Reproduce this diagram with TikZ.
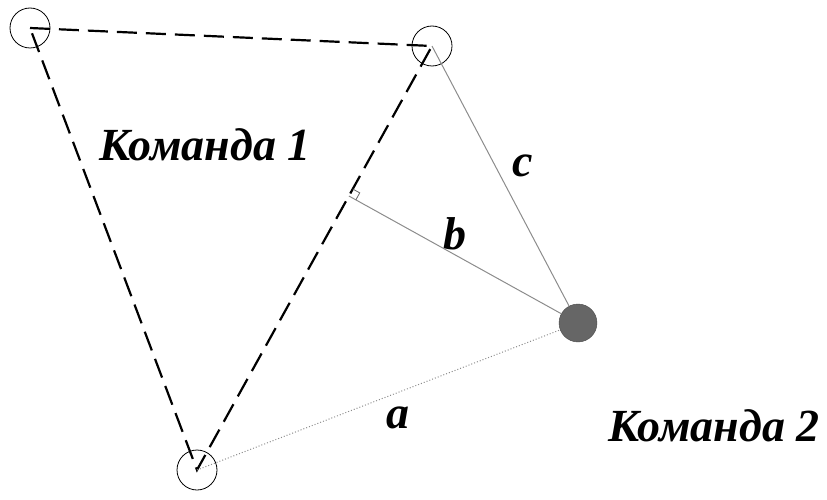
\documentclass[tikz,border=0pt]{standalone}
\usepackage{fontspec}
\setmainfont{Liberation Serif}
\usetikzlibrary{calc}
\begin{document}
\begin{tikzpicture}[x=1pt,y=-1pt,
  player/.style={circle,draw,thick,minimum size=40pt,inner sep=0pt},
  ball/.style={circle,fill=black!60,draw=black!70,minimum size=38pt,inner sep=0pt},
  team/.style={dash pattern=on 20pt off 9pt,line width=2.2pt},
  dist/.style={draw=black!45,line width=1pt},
  lbl/.style={font=\fontsize{46}{50}\selectfont\bfseries\itshape}]
\useasboundingbox (0,0) rectangle (827,500);
\node[player] (A) at (30,28) {};
\node[player] (B) at (432,46) {};
\node[player] (C) at (197,470) {};
\node[ball] (D) at (578,323) {};
\coordinate (F) at ($(B.center)!(D.center)!(C.center)$);
\draw[team] (A.center) -- (B.center) -- (C.center) -- cycle;
\draw[dist] (B.center) -- (D);
\draw[dist] (F) -- (D);
\draw[dist,dotted] (C.center) -- (D);
\draw[black!60,line width=0.8pt] ($(F)!8pt!(B.center)$) -- ($(F)!8pt!(B.center)+(F)!8pt!(D.center)-(F)$) -- ($(F)!8pt!(D.center)$);
\node[lbl] (t1) at (205,145) {Команда 1};
\node[lbl] (t2) at (714,426) {Команда 2};
\node[lbl] (lc) at (523,166) {c};
\node[lbl] (lb) at (455,234) {b};
\node[lbl] (la) at (398,418) {a};
\end{tikzpicture}
\end{document}
